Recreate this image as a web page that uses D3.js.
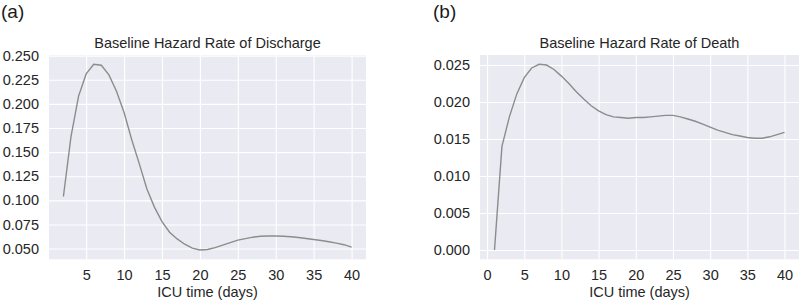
<!DOCTYPE html>
<html>
    <head>
        <title>Baseline Hazard Rates</title>
        <script src="https://cdn.jsdelivr.net/npm/d3@7/dist/d3.min.js"></script>
        <style>
            body { margin: 0; background: #ffffff; }
            text { font-family: Arial, "Liberation Sans", sans-serif; }
        </style>
    </head>
    <body>
        <svg width="800" height="303" id="mainsvg"></svg>
        <script>
            // data
            const days_discharge = [2, 3, 4, 5, 6, 7, 8, 9, 10, 11, 12, 13, 14, 15, 16, 17, 18, 19, 20, 21,
                22, 23, 24, 25, 26, 27, 28, 29, 30, 31, 32, 33, 34, 35, 36, 37, 38, 39, 40];
            const hazard_discharge = [0.104, 0.166, 0.208, 0.231, 0.241, 0.240, 0.230, 0.213, 0.191, 0.163,
                0.138, 0.112, 0.093, 0.078, 0.067, 0.060, 0.0545, 0.0505, 0.0485, 0.049,
                0.051, 0.0535, 0.0562, 0.0587, 0.0603, 0.0618, 0.0628, 0.0631, 0.0631, 0.0628,
                0.0622, 0.0615, 0.0605, 0.0594, 0.0584, 0.057, 0.0556, 0.054, 0.0515];

            const days_death = [1, 2, 3, 4, 5, 6, 7, 8, 9, 10, 11, 12, 13, 14, 15, 16, 17, 18, 19, 20,
                21, 22, 23, 24, 25, 26, 27, 28, 29, 30, 31, 32, 33, 34, 35, 36, 37, 38, 39, 40];
            const hazard_death = [0.0000, 0.0140, 0.0180, 0.0211, 0.0233, 0.0246, 0.0251, 0.0250, 0.0244, 0.0235,
                0.0225, 0.0214, 0.0204, 0.0195, 0.0188, 0.0183, 0.0180, 0.0179, 0.0178, 0.0179,
                0.0179, 0.0180, 0.0181, 0.0182, 0.0182, 0.0180, 0.0177, 0.0174, 0.0170, 0.0166,
                0.0162, 0.0159, 0.0156, 0.0154, 0.0152, 0.0151, 0.0151, 0.0153, 0.0156, 0.0159];

            const xticks_discharge = [5, 10, 15, 20, 25, 30, 35, 40];
            const yticks_discharge = [0.050, 0.075, 0.100, 0.125, 0.150, 0.175, 0.200, 0.225, 0.250];
            const xticks_death = [0, 5, 10, 15, 20, 25, 30, 35, 40];
            const yticks_death = [0.000, 0.005, 0.010, 0.015, 0.020, 0.025];

            const main_svg = d3.select("#mainsvg");

            const panels = [
                {letter: "(a)", title: "Baseline Hazard Rate of Discharge", xs: days_discharge, ys: hazard_discharge,
                 xticks: xticks_discharge, yticks: yticks_discharge, left: 49, right: 366, letterX: 1},
                {letter: "(b)", title: "Baseline Hazard Rate of Death", xs: days_death, ys: hazard_death,
                 xticks: xticks_death, yticks: yticks_death, left: 480, right: 799, letterX: 433}
            ];
            const plot_top = 55, plot_bottom = 259.3;
            const textColor = "#262626";

            // matplotlib style 5% margins around the data
            const padded = function(arr){
                const lo = d3.min(arr), hi = d3.max(arr), m = (hi - lo) * 0.05;
                return [lo - m, hi + m];
            };

            panels.forEach(p => {
                const xScale = d3.scaleLinear().domain(padded(p.xs)).range([p.left, p.right]);
                const yScale = d3.scaleLinear().domain(padded(p.ys)).range([plot_bottom, plot_top]);
                const g = main_svg.append("g");

                g.append("rect")
                .attr("x", p.left).attr("y", plot_top)
                .attr("width", p.right - p.left).attr("height", plot_bottom - plot_top)
                .attr("fill", "#eaeaf2");

                // grid via axes
                const xAxis = d3.axisBottom(xScale).tickValues(p.xticks)
                .tickSize(-(plot_bottom - plot_top)).tickPadding(10).tickFormat(d3.format("d"));
                const xg = g.append("g").attr("transform", `translate(0, ${plot_bottom})`).call(xAxis);
                xg.select(".domain").remove();
                xg.selectAll(".tick line").attr("stroke", "#ffffff").attr("stroke-width", 1.1);
                xg.selectAll(".tick text").attr("fill", textColor).attr("font-size", "14.5px")
                .attr("font-family", "Arial, 'Liberation Sans', sans-serif");

                const yAxis = d3.axisLeft(yScale).tickValues(p.yticks)
                .tickSize(-(p.right - p.left)).tickPadding(10).tickFormat(d3.format(".3f"));
                const yg = g.append("g").attr("transform", `translate(${p.left}, 0)`).call(yAxis);
                yg.select(".domain").remove();
                yg.selectAll(".tick line").attr("stroke", "#ffffff").attr("stroke-width", 1.1);
                yg.selectAll(".tick text").attr("fill", textColor).attr("font-size", "14.5px")
                .attr("font-family", "Arial, 'Liberation Sans', sans-serif");

                // the curve
                const line = d3.line()
                .x((d, i) => xScale(p.xs[i]))
                .y(d => yScale(d));
                g.append("path")
                .datum(p.ys)
                .attr("fill", "none")
                .attr("stroke", "#8c8c8c")
                .attr("stroke-width", 1.4)
                .attr("d", line);

                // title, axis label, panel letter
                g.append("text")
                .attr("x", (p.left + p.right) / 2).attr("y", 48.3)
                .attr("text-anchor", "middle").attr("fill", textColor).attr("font-size", "14.5px")
                .text(p.title);

                g.append("text")
                .attr("x", (p.left + p.right) / 2).attr("y", 296.5)
                .attr("text-anchor", "middle").attr("fill", textColor).attr("font-size", "14.5px")
                .text("ICU time (days)");

                g.append("text")
                .attr("x", p.letterX).attr("y", 17.5)
                .attr("fill", "#1a1a1a").attr("font-size", "19px")
                .text(p.letter);
            });
        </script>
    </body>
</html>
